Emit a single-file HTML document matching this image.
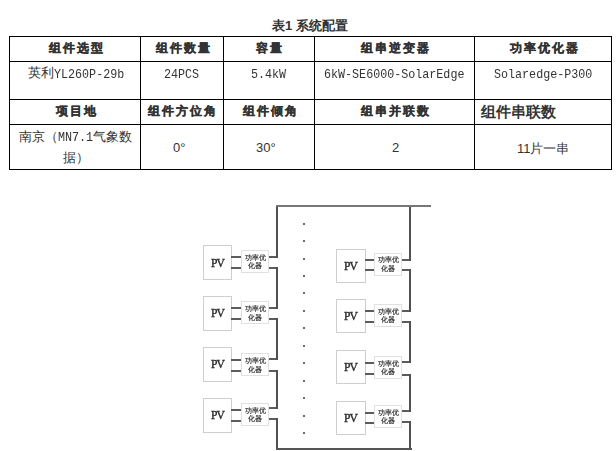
<!DOCTYPE html>
<html><head><meta charset="utf-8">
<style>
html,body{margin:0;padding:0;background:#fff;}
body{width:616px;height:451px;position:relative;overflow:hidden;font-family:"Liberation Sans",sans-serif;color:#333;}
.h{position:absolute;height:1px;background:#000;}
.v{position:absolute;width:1px;background:#000;}
.t{position:absolute;white-space:nowrap;line-height:1;}
.hd{font-weight:bold;font-size:12px;color:#333;letter-spacing:2.1px;-webkit-text-stroke:0.3px #333;}
.tx{font-size:13px;color:#333;}
.mono{font-family:"Liberation Mono",monospace;font-size:13px;display:inline-block;transform:scaleX(0.9);transform-origin:0 0;}
/* diagram */
#dg{position:absolute;left:0;top:0;width:616px;height:451px;filter:blur(0.35px);}
.pv{position:absolute;width:28px;height:34px;border:1px solid #cecece;box-sizing:border-box;}
.pvt{position:absolute;font-family:"Liberation Serif",serif;font-size:11.6px;font-weight:normal;color:#2a2a2a;-webkit-text-stroke:0.35px #2a2a2a;line-height:1;letter-spacing:-1px;}
.op{position:absolute;width:28px;height:23px;border:1px solid #e0e0e0;box-sizing:border-box;}
.opt{position:absolute;font-size:6.7px;color:#333;-webkit-text-stroke:0.2px #333;line-height:8.6px;text-align:center;width:28px;}
.w{position:absolute;background:#444;}
.dot{position:absolute;width:2px;height:2px;background:#3a3a3a;border-radius:1px;}
</style></head><body>
<div class="t" style="left:272px;top:19px;font-size:13px;font-weight:bold;color:#333;">表1 系统配置</div>

<!-- table lines -->
<div class="h" style="left:9px;top:36px;width:603px"></div>
<div class="h" style="left:9px;top:61px;width:603px"></div>
<div class="h" style="left:9px;top:99px;width:603px"></div>
<div class="h" style="left:9px;top:124px;width:603px"></div>
<div class="h" style="left:9px;top:169px;width:603px"></div>
<div class="v" style="left:9px;top:36px;height:134px"></div>
<div class="v" style="left:140px;top:36px;height:134px"></div>
<div class="v" style="left:223px;top:36px;height:134px"></div>
<div class="v" style="left:314px;top:36px;height:134px"></div>
<div class="v" style="left:474px;top:36px;height:134px"></div>
<div class="v" style="left:611px;top:36px;height:134px"></div>

<!-- header row -->
<div class="t hd" style="left:49px;top:42px">组件选型</div>
<div class="t hd" style="left:156px;top:42px">组件数量</div>
<div class="t hd" style="left:256px;top:42px">容量</div>
<div class="t hd" style="left:361px;top:42px">组串逆变器</div>
<div class="t hd" style="left:510px;top:42px">功率优化器</div>

<!-- row 2 -->
<div class="t tx" style="left:28px;top:66px">英利<span class="mono" style="vertical-align:-0.5px">YL260P-29b</span></div>
<div class="t tx mono" style="left:164px;top:68px">24PCS</div>
<div class="t tx mono" style="left:251px;top:68px">5.4kW</div>
<div class="t tx mono" style="left:324px;top:68px">6kW-SE6000-SolarEdge</div>
<div class="t tx mono" style="left:494px;top:68px">Solaredge-P300</div>

<!-- row 3 -->
<div class="t hd" style="left:56px;top:105px">项目地</div>
<div class="t hd" style="left:148px;top:105px">组件方位角</div>
<div class="t hd" style="left:243px;top:105px">组件倾角</div>
<div class="t hd" style="left:361px;top:105px">组串并联数</div>
<div class="t" style="left:481px;top:104px;font-size:15px;font-weight:bold;color:#333">组件串联数</div>

<!-- row 4 -->
<div class="t tx" style="left:19px;top:130px">南京（<span class="mono" style="margin-right:-3.9px">MN7.1</span>气象数</div>
<div class="t tx" style="left:63px;top:151px">据）</div>
<div class="t tx" style="left:173px;top:141px">0°</div>
<div class="t tx" style="left:256px;top:141px">30°</div>
<div class="t tx" style="left:392px;top:141px">2</div>
<div class="t tx" style="left:517px;top:142px">11片一串</div>

<!-- diagram -->
<div id="dg">
<div class="pv" style="left:203px;top:245px;width:29px;height:35px"></div>
<div class="pvt" style="left:211px;top:257.6px">PV</div>
<div class="op" style="left:241px;top:250px;width:28px;height:23px"></div>
<div class="opt" style="left:241px;top:253.5px;width:28px">功率优<br>化器</div>
<div class="w" style="left:231px;top:256px;width:10px;height:2px;background:#5c5c5c"></div>
<div class="w" style="left:231px;top:267px;width:10px;height:2px;background:#5c5c5c"></div>
<div class="w" style="left:269px;top:256px;width:7px;height:2px;background:#5c5c5c"></div>
<div class="w" style="left:269px;top:267px;width:7px;height:2px;background:#5c5c5c"></div>
<div class="pv" style="left:203px;top:296px;width:29px;height:35px"></div>
<div class="pvt" style="left:211px;top:308.2px">PV</div>
<div class="op" style="left:241px;top:301px;width:28px;height:23px"></div>
<div class="opt" style="left:241px;top:305px;width:28px">功率优<br>化器</div>
<div class="w" style="left:231px;top:307px;width:10px;height:2px;background:#5c5c5c"></div>
<div class="w" style="left:231px;top:318px;width:10px;height:2px;background:#5c5c5c"></div>
<div class="w" style="left:269px;top:307px;width:7px;height:2px;background:#5c5c5c"></div>
<div class="w" style="left:269px;top:318px;width:7px;height:2px;background:#5c5c5c"></div>
<div class="pv" style="left:203px;top:347px;width:29px;height:35px"></div>
<div class="pvt" style="left:211px;top:359.1px">PV</div>
<div class="op" style="left:241px;top:353px;width:28px;height:23px"></div>
<div class="opt" style="left:241px;top:357px;width:28px">功率优<br>化器</div>
<div class="w" style="left:231px;top:359px;width:10px;height:2px;background:#5c5c5c"></div>
<div class="w" style="left:231px;top:370px;width:10px;height:2px;background:#5c5c5c"></div>
<div class="w" style="left:269px;top:358px;width:7px;height:2px;background:#5c5c5c"></div>
<div class="w" style="left:269px;top:370px;width:7px;height:2px;background:#5c5c5c"></div>
<div class="pv" style="left:203px;top:398px;width:29px;height:35px"></div>
<div class="pvt" style="left:211px;top:410.1px">PV</div>
<div class="op" style="left:241px;top:403px;width:28px;height:23px"></div>
<div class="opt" style="left:241px;top:406.5px;width:28px">功率优<br>化器</div>
<div class="w" style="left:231px;top:409px;width:10px;height:2px;background:#5c5c5c"></div>
<div class="w" style="left:231px;top:420px;width:10px;height:2px;background:#5c5c5c"></div>
<div class="w" style="left:269px;top:407px;width:7px;height:2px;background:#5c5c5c"></div>
<div class="w" style="left:269px;top:418px;width:7px;height:2px;background:#5c5c5c"></div>
<div class="w" style="left:276px;top:205px;width:2px;height:53px;background:#505050"></div>
<div class="w" style="left:276px;top:267px;width:2px;height:42px;background:#505050"></div>
<div class="w" style="left:276px;top:318px;width:2px;height:42px;background:#505050"></div>
<div class="w" style="left:276px;top:370px;width:2px;height:39px;background:#505050"></div>
<div class="w" style="left:276px;top:418px;width:2px;height:32px;background:#505050"></div>
<div class="pv" style="left:336px;top:249px;width:30px;height:34px"></div>
<div class="pvt" style="left:344px;top:260.7px">PV</div>
<div class="op" style="left:374px;top:253px;width:28px;height:23px"></div>
<div class="opt" style="left:374px;top:256.2px;width:28px">功率优<br>化器</div>
<div class="w" style="left:365px;top:259px;width:9px;height:2px;background:#5c5c5c"></div>
<div class="w" style="left:365px;top:269px;width:9px;height:2px;background:#5c5c5c"></div>
<div class="w" style="left:402px;top:259px;width:7px;height:2px;background:#5c5c5c"></div>
<div class="w" style="left:402px;top:269px;width:7px;height:2px;background:#5c5c5c"></div>
<div class="pv" style="left:336px;top:299px;width:30px;height:34px"></div>
<div class="pvt" style="left:344px;top:311.3px">PV</div>
<div class="op" style="left:374px;top:304px;width:28px;height:23px"></div>
<div class="opt" style="left:374px;top:307.5px;width:28px">功率优<br>化器</div>
<div class="w" style="left:365px;top:310px;width:9px;height:2px;background:#5c5c5c"></div>
<div class="w" style="left:365px;top:321px;width:9px;height:2px;background:#5c5c5c"></div>
<div class="w" style="left:402px;top:310px;width:7px;height:2px;background:#5c5c5c"></div>
<div class="w" style="left:402px;top:321px;width:7px;height:2px;background:#5c5c5c"></div>
<div class="pv" style="left:336px;top:350px;width:30px;height:34px"></div>
<div class="pvt" style="left:344px;top:361.8px">PV</div>
<div class="op" style="left:374px;top:356px;width:28px;height:23px"></div>
<div class="opt" style="left:374px;top:359.8px;width:28px">功率优<br>化器</div>
<div class="w" style="left:365px;top:362px;width:9px;height:2px;background:#5c5c5c"></div>
<div class="w" style="left:365px;top:373px;width:9px;height:2px;background:#5c5c5c"></div>
<div class="w" style="left:402px;top:361px;width:7px;height:2px;background:#5c5c5c"></div>
<div class="w" style="left:402px;top:374px;width:7px;height:2px;background:#5c5c5c"></div>
<div class="pv" style="left:336px;top:401px;width:30px;height:34px"></div>
<div class="pvt" style="left:344px;top:412.6px">PV</div>
<div class="op" style="left:374px;top:405px;width:28px;height:23px"></div>
<div class="opt" style="left:374px;top:408.8px;width:28px">功率优<br>化器</div>
<div class="w" style="left:365px;top:412px;width:9px;height:2px;background:#5c5c5c"></div>
<div class="w" style="left:365px;top:422px;width:9px;height:2px;background:#5c5c5c"></div>
<div class="w" style="left:402px;top:410px;width:7px;height:2px;background:#5c5c5c"></div>
<div class="w" style="left:402px;top:421px;width:7px;height:2px;background:#5c5c5c"></div>
<div class="w" style="left:409px;top:205px;width:2px;height:56px;background:#505050"></div>
<div class="w" style="left:409px;top:269px;width:2px;height:43px;background:#505050"></div>
<div class="w" style="left:409px;top:321px;width:2px;height:42px;background:#505050"></div>
<div class="w" style="left:409px;top:374px;width:2px;height:38px;background:#505050"></div>
<div class="w" style="left:409px;top:421px;width:2px;height:29px;background:#505050"></div>
<div class="w" style="left:276px;top:205px;width:155px;height:2px;background:#777"></div>
<div class="w" style="left:276px;top:448px;width:136px;height:2px;background:#555"></div>
<div class="dot" style="left:303px;top:222.5px"></div>
<div class="dot" style="left:303px;top:240.0px"></div>
<div class="dot" style="left:303px;top:257.5px"></div>
<div class="dot" style="left:303px;top:274.9px"></div>
<div class="dot" style="left:303px;top:292.4px"></div>
<div class="dot" style="left:303px;top:309.9px"></div>
<div class="dot" style="left:303px;top:327.4px"></div>
<div class="dot" style="left:303px;top:344.9px"></div>
<div class="dot" style="left:303px;top:362.3px"></div>
<div class="dot" style="left:303px;top:379.8px"></div>
<div class="dot" style="left:303px;top:397.3px"></div>
<div class="dot" style="left:303px;top:414.8px"></div>
<div class="dot" style="left:303px;top:432.3px"></div>
</div>
</body></html>
